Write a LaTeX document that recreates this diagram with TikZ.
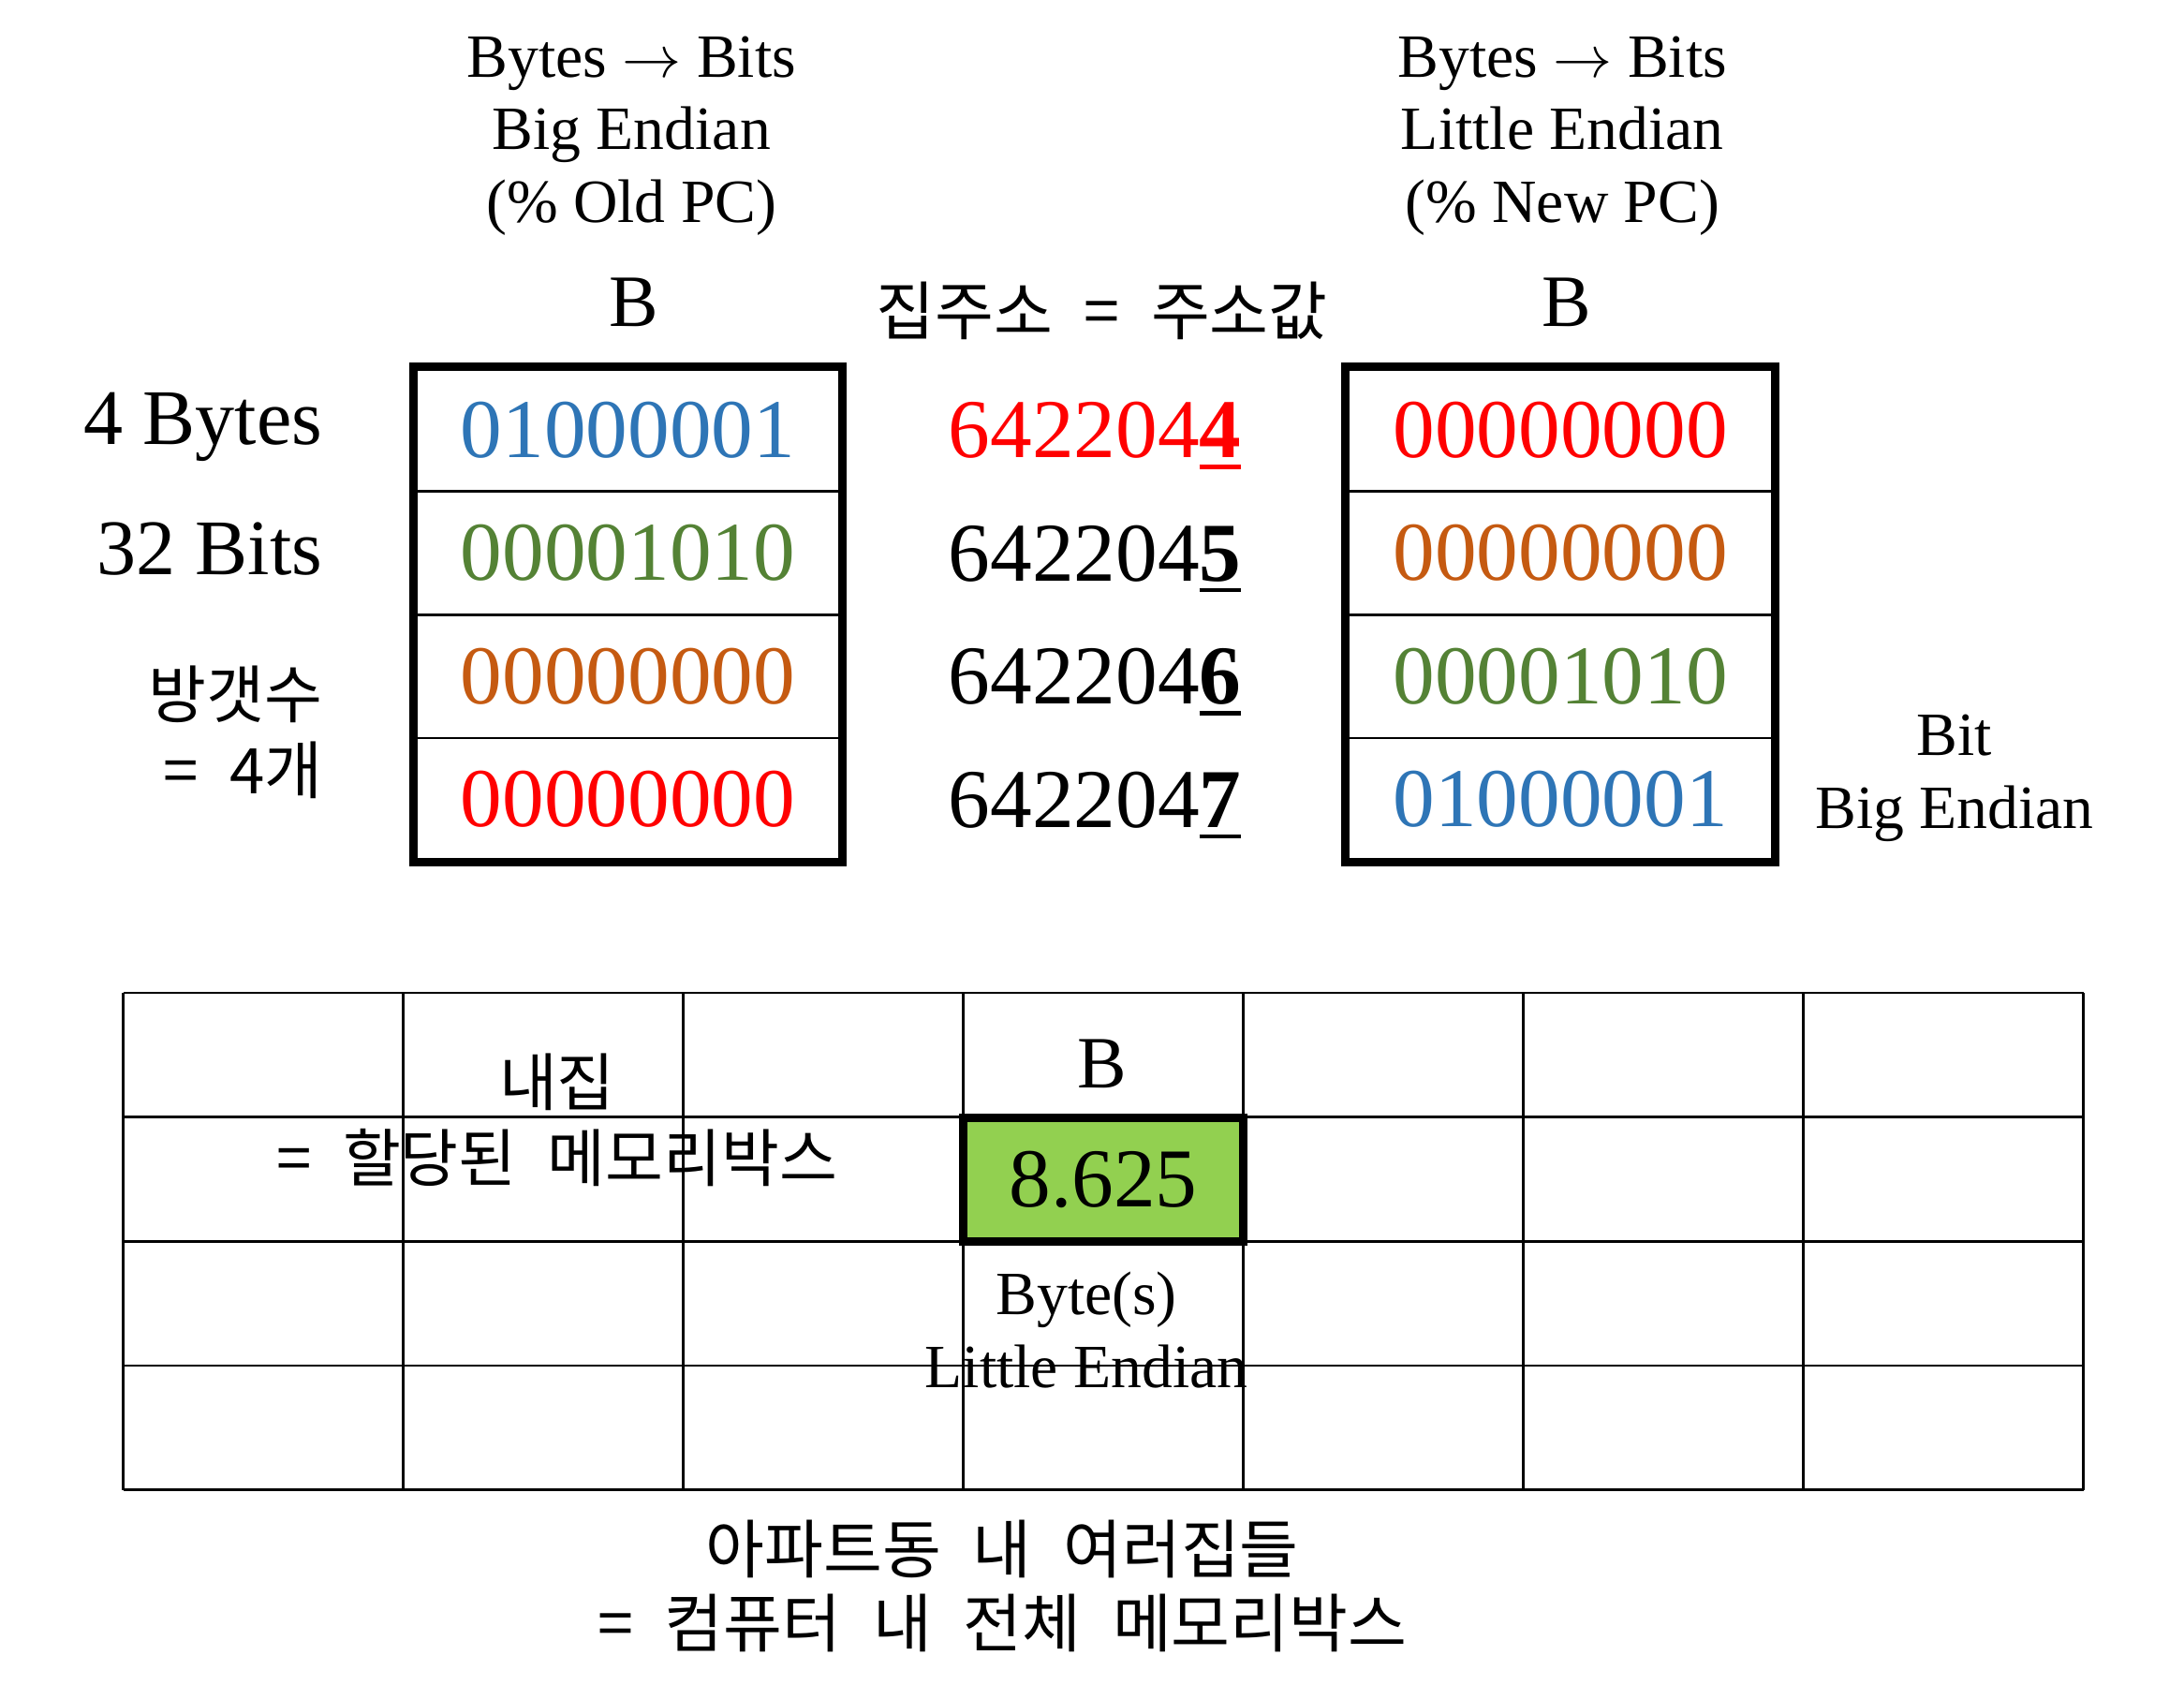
\documentclass[tikz,border=0pt]{standalone}
\usepackage{fontspec}
\setmainfont{Liberation Serif}
\newfontfamily\kr[WordSpace=2.2]{Noto Sans CJK KR}
\usepackage{xcolor}
\usetikzlibrary{calc}
\definecolor{bitblue}{HTML}{2E75B6}
\definecolor{bitgreen}{HTML}{548235}
\definecolor{bitorange}{HTML}{C55A11}
\definecolor{bitred}{HTML}{FF0000}
\definecolor{boxgreen}{HTML}{92D050}
\newcommand\lastdigit[1]{\setbox0=\hbox{\textbf{#1}}\rlap{\rule[-2.3pt]{\wd0}{0.9pt}}\box0}
\tikzset{
 cellbox/.style={draw, line width=.5pt, minimum width=3.05cm, minimum height=.88cm, inner sep=0, font=\fontsize{17}{20}\selectfont},
 addr/.style={inner sep=0, text depth=0pt, font=\fontsize{17}{20}\selectfont},
 titletext/.style={align=center, inner sep=0, font=\fontsize{12.5}{14.8}\selectfont},
 bigB/.style={inner sep=0, font=\fontsize{15}{18}\selectfont},
 hangul/.style={align=center, inner sep=0, font=\kr\fontsize{12.8}{15.3}\selectfont},
 outer/.style={line width=1.7pt}
}

\begin{document}
\begin{tikzpicture}
\useasboundingbox (0,0) rectangle (15.6,-12.03);
% headings
\node[titletext] (oldpc) at (4.51,-0.97) {Bytes $\rightarrow$ Bits\\Big Endian\\(\% Old PC)};
\node[titletext] (newpc) at (11.16,-0.97) {Bytes $\rightarrow$ Bits\\Little Endian\\(\% New PC)};
\node[bigB] (bigB) at (4.53,-2.16) {B};
\node[bigB] (litB) at (11.19,-2.16) {B};
\node[hangul, font=\kr\fontsize{13}{15}\selectfont] (house) at (7.87,-2.22) {집주소 = 주소값};
% left side labels
\node[inner sep=0, anchor=east, font=\fontsize{16}{19}\selectfont] (nbytes) at (2.31,-3.05) {4 Bytes};
\node[inner sep=0, anchor=east, font=\fontsize{16}{19}\selectfont] (nbits) at (2.31,-3.92) {32 Bits};
\node[hangul, align=right, anchor=east] (rooms) at (2.31,-5.23) {방갯수\\= 4개};
% the two memory boxes
\foreach \v/\c [count=\i] in {01000001/bitblue, 00001010/bitgreen, 00000000/bitorange, 00000000/bitred} {
 \node[cellbox, text=\c] (big\i) at (4.485,{-3.07-(\i-1)*0.88}) {\v};
}
\foreach \v/\c [count=\i] in {00000000/bitred, 00000000/bitorange, 00001010/bitgreen, 01000001/bitblue} {
 \node[cellbox, text=\c] (lit\i) at (11.145,{-3.07-(\i-1)*0.88}) {\v};
}
\draw[outer] (big1.north west) rectangle (big4.south east);
\draw[outer] (lit1.north west) rectangle (lit4.south east);
\foreach \d/\c [count=\i] in {4/bitred, 5/black, 6/black, 7/black} {
 \node[addr, text=\c] (addr\i) at (7.82,{-3.07-(\i-1)*0.88}) {642204\lastdigit{\d}};
}
\node[titletext] (bitbig) at (13.96,-5.56) {Bit\\Big Endian};
% memory grid
\draw[line width=.5pt, xstep=2, ystep=.8875, shift={(0.88,-10.64)}] (0,0) grid (14.001,3.551);
\node[draw, outer, fill=boxgreen, minimum width=2cm, minimum height=.8875cm, inner sep=0, font=\fontsize{17}{20}\selectfont] (value) at (7.88,-8.425) {8.625};
\node[bigB] (valB) at (7.87,-7.60) {B};
\node[titletext] (bytes) at (7.76,-9.50) {Byte(s)\\Little Endian};
\node[hangul] (myhouse) at (3.98,-8.00) {내집\\= 할당된 메모리박스};
\node[hangul, font=\kr\fontsize{13}{15}\selectfont] (block) at (7.16,-11.33) {아파트동 내 여러집들\\= 컴퓨터 내 전체 메모리박스};
\end{tikzpicture}
\end{document}
